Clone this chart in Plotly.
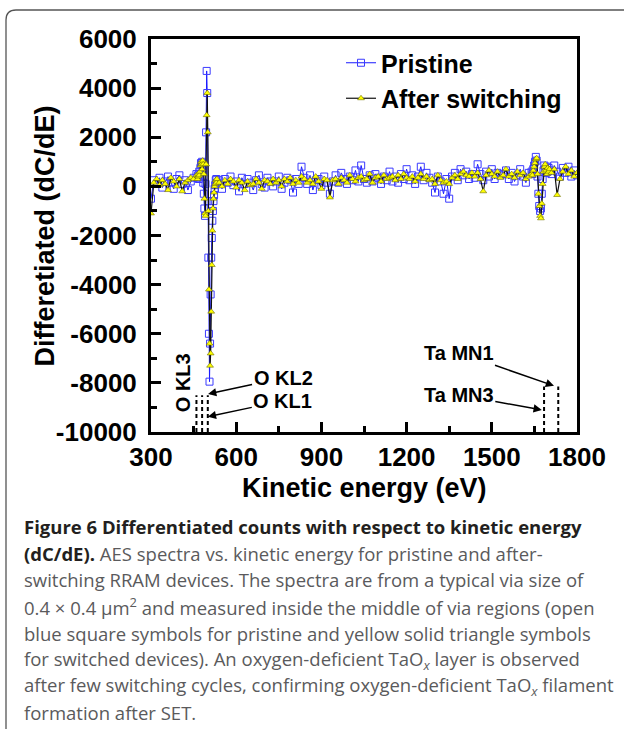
import plotly.graph_objects as go

# ---------------- data ----------------
energy = (list(range(300, 461, 10)) + list(range(464, 533, 2)) +
          list(range(540, 1641, 10)) + list(range(1643, 1704, 3)) +
          list(range(1710, 1801, 10)))

pristine = [
    -500, 250, 100, 350, -50, 200, 400, 150, -100, 300, 450, 100, 250, -150, 200, 350, 500,
    350, 450, 300, 600, 400, 750, 950, 850, 1000, 650, 150, -300, -900, -1200, 100, 2200, 4700,
    3800, -600, -2900, -6000, -7950, -6400, -4400, -2900, -2100, -1400, -1000, -600, -350, -100,
    50, 250, 300, 150,
    250, -100, 300, 150, 400, 50, 200, -200, 350, 100,
    300, 150, -150, 250, 450, 100, -50, 350, 200, 0,
    200, 400, -100, 150, 350, 250, -250, 300, 100, 800,
    350, 100, 450, -150, 250, 300, 50, 400, 150, -300,
    200, 450, 150, 550, 300, 100, 400, 250, 650, 200,
    850, 300, 150, 450, 200, 500, 350, 100, 400, 250,
    600, 200, 400, 150, 500, 300, 700, 250, 450, 100,
    400, 800, 250, 550, 350, 150, -250, 400, 200, -300,
    300, -500, 400, 550, 250, 700, 450, 600, 300, 500,
    350, 900, 500, 250, 600, 400, 700, 300, 550, 450,
    500, 650, 300, 550, 200, 450, 700, 400, 150, 550,
    600,
    500, 700, 850, 1000, 1200, 1050, 400, -300, -800, -1000, -900, -300, 300, 650, 850, 700,
    550, 800, 600, 750, 650,
    500, 850, 600, 400, 750, 550, 800, 400, 650, 450,
]

after_switching = [
    -1100, 150, 300, 50, 250, 100, -150, 350, 200, 0, 300, -200, 150, 250, 350, 300, 450,
    300, 400, 500, 450, 600, 850, 1000, 900, 700, 1050, 900, 500, -500, -1100, -1200, 900, 2900,
    3800, 2200, -1000, -4200, -6400, -7300, -6800, -5100, -3200, -1800, -900, -500, -250, 0,
    100, 250, 150, 300,
    150, 0, 250, 100, 300, 200, -50, 250, 150, -150,
    200, 50, 100, 300, 150, -100, 250, 200, 100, 300,
    150, 250, 0, 300, 200, 350, 100, 250, 150, 400,
    300, 150, 250, 100, 400, 200, -100, 300, 250, -450,
    250, 300, 100, 350, 250, 150, 450, 300, 200, 350,
    400, 250, 300, 500, 150, 350, 400, 200, 450, 300,
    350, 400, 250, 450, 300, 500, 350, 300, 400, 200,
    350, 500, 300, 400, 250, 300, 100, 450, 250, 150,
    200, 100, 350, 450, 300, 500, 600, 450, 400, 550,
    400, 550, 300, -200, 450, 650, 500, 400, 600, 350,
    450, 700, 400, 500, 350, 600, 450, 550, 300, 400,
    500,
    450, 650, 800, 950, 1100, 1150, 500, -300, -800, -1200, -1300, -700, 100, 600, 800, 900,
    650, 500, 750, 600, 700,
    550, 700, -350, 300, 600, 800, 500, 650, 400, 550,
]

series_names = ["Pristine", "After switching"]
x_ticks = [300, 600, 900, 1200, 1500, 1800]
x_tick_text = ["300", "600", "900", "1200", "1500", "1800"]
y_ticks = [6000, 4000, 2000, 0, -2000, -4000, -6000, -8000, -10000]
y_tick_text = ["6000", "4000", "2000", "0", "-2000", "-4000", "-6000", "-8000", "-10000"]

# reference-line markers (peak labels)
o_lines = [460, 480, 500]
o_top = -8500
ta_lines = [1684, 1734]
ta_top = -8150

caption_lines = [
    "<b><span style='color:#231f20'>Figure 6 Differentiated counts with respect to kinetic energy</span></b>",
    "<b><span style='color:#231f20'>(dC/dE).</span></b> AES spectra vs. kinetic energy for pristine and after-",
    "switching RRAM devices. The spectra are from a typical via size of",
    "0.4 × 0.4 μm<sup>2</sup> and measured inside the middle of via regions (open",
    "blue square symbols for pristine and yellow solid triangle symbols",
    "for switched devices). An oxygen-deficient TaO<sub><i>x</i></sub> layer is observed",
    "after few switching cycles, confirming oxygen-deficient TaO<sub><i>x</i></sub> filament",
    "formation after SET.",
]

assert len(energy) == len(pristine) == len(after_switching)

# ---------------- layout geometry ----------------
W, H = 624, 729
L, R, T, B = 151, 577, 39, 432


def px(xp):
    return (xp - L) / (R - L)


def py(yp):
    return (B - yp) / (B - T)


AX_FONT = "Liberation Sans, Arial, sans-serif"

fig = go.Figure()
fig.add_trace(go.Scatter(
    x=energy, y=pristine, name=series_names[0], mode="lines+markers",
    line=dict(color="#1a1aff", width=1),
    marker=dict(symbol="square-open", size=7, color="#3b3bff", line=dict(width=1)),
))
fig.add_trace(go.Scatter(
    x=energy, y=after_switching, name=series_names[1], mode="lines+markers",
    line=dict(color="#111111", width=1.2),
    marker=dict(symbol="triangle-up", size=6, color="#ffff00",
                line=dict(color="#6b6b00", width=0.6)),
))

shapes = []
for e in o_lines:
    shapes.append(dict(type="line", xref="x", yref="y", x0=e, x1=e, y0=-10000, y1=o_top,
                       line=dict(color="black", width=2, dash="4px,3px")))
for e in ta_lines:
    shapes.append(dict(type="line", xref="x", yref="y", x0=e, x1=e, y0=-10000, y1=ta_top,
                       line=dict(color="black", width=2, dash="4px,3px")))

# rounded figure border
bx0, by0, rr = 6, 10, 10
path = (f"M {px(bx0)},{py(760)} L {px(bx0)},{py(by0 + rr)} "
        f"Q {px(bx0)},{py(by0)} {px(bx0 + rr)},{py(by0)} L {px(640)},{py(by0)}")
shapes.append(dict(type="path", xref="paper", yref="paper", path=path,
                   line=dict(color="#555555", width=1.3)))

ann = []
lab_font = dict(family=AX_FONT, size=20, color="black", weight="bold")
# arrow annotations: tip in data coords, text offset in pixels
arrows = [
    ("O KL2", 501, -8450, 75, -16),
    ("O KL1", 500, -9380, 75, -16),
    ("Ta MN1", 1719, -8120, -95, -33),
    ("Ta MN3", 1676, -9100, -83, -15),
]
for txt, xe, yv, ax, ay in arrows:
    ann.append(dict(x=xe, y=yv, xref="x", yref="y", text=txt, showarrow=True,
                    ax=ax, ay=ay, arrowhead=2, arrowsize=1.1, arrowwidth=1.5,
                    arrowcolor="black", font=lab_font))
ann.append(dict(x=px(182.7), y=py(382.5), xref="paper", yref="paper", text="O KL3",
                textangle=-90, showarrow=False, xanchor="center", yanchor="middle",
                font=lab_font))
# axis titles
ann.append(dict(x=px(44), y=py(235.5), xref="paper", yref="paper",
                text="Differetiated (dC/dE)", textangle=-90, showarrow=False,
                xanchor="center", yanchor="middle",
                font=dict(family=AX_FONT, size=27, color="black", weight="bold")))
ann.append(dict(x=px(364), y=py(488), xref="paper", yref="paper",
                text="Kinetic energy (eV)", showarrow=False,
                xanchor="center", yanchor="middle",
                font=dict(family=AX_FONT, size=27, color="black", weight="bold")))
# caption
cap_y0, cap_dy = 526.7, 26.6
for i, line in enumerate(caption_lines):
    ann.append(dict(x=px(22), y=py(cap_y0 + i * cap_dy), xref="paper", yref="paper",
                    text=line, showarrow=False, xanchor="left", yanchor="middle",
                    align="left",
                    font=dict(family="Open Sans, Noto Sans, sans-serif", size=18.5,
                              color="#5a5a5c")))

axis_common = dict(
    showline=True, linewidth=3, linecolor="black", mirror=True,
    ticks="inside", ticklen=10, tickwidth=2.5, tickcolor="black",
    showgrid=False, zeroline=False,
    tickfont=dict(family=AX_FONT, size=26, color="black", weight="bold"),
)

fig.update_layout(
    width=W, height=H,
    margin=dict(l=L, r=W - R, t=T, b=H - B, pad=0),
    paper_bgcolor="white", plot_bgcolor="white",
    showlegend=True,
    legend=dict(x=px(341), y=py(40), xanchor="left", yanchor="top",
                bgcolor="rgba(0,0,0,0)", tracegroupgap=0,
                font=dict(family=AX_FONT, size=25, color="black", weight="bold")),
    xaxis=dict(range=[300, 1800], tickvals=x_ticks, ticktext=x_tick_text,
               ticklabelstandoff=0,
               minor=dict(dtick=150, ticks="inside", ticklen=6, tickwidth=2.5,
                          tickcolor="black"),
               **axis_common),
    yaxis=dict(range=[-10000, 6000], tickvals=y_ticks, ticktext=y_tick_text,
               ticklabelstandoff=6,
               minor=dict(dtick=1000, ticks="inside", ticklen=6, tickwidth=2.5,
                          tickcolor="black"),
               **axis_common),
    shapes=shapes,
    annotations=ann,
)

fig.write_html("out.html")
